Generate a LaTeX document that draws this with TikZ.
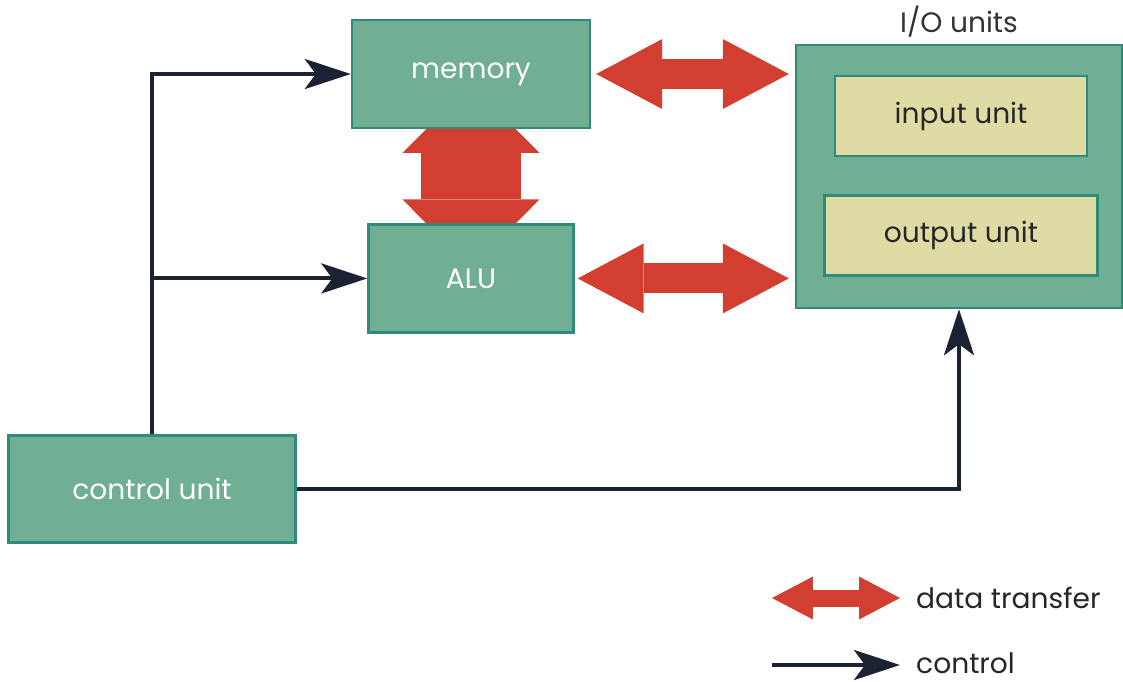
\documentclass[tikz,border=0pt]{standalone}
\usepackage{fontspec}
\setmainfont{Poppins}
\usetikzlibrary{arrows.meta,positioning,backgrounds}
\definecolor{boxgreen}{HTML}{70AF94}
\definecolor{boxedge}{HTML}{2F8A79}
\definecolor{unityellow}{HTML}{DFDBA5}
\definecolor{datared}{HTML}{D23F31}
\definecolor{ctrlblue}{HTML}{1B2233}

\begin{document}
\begin{tikzpicture}[
		x = 0.02cm, y = -0.02cm,
		unit/.style = {rectangle, draw = boxedge, line width = 1.4pt, fill = boxgreen, text = white, inner sep = 0pt, font = \fontsize{16}{19}\selectfont},
		subunit/.style = {rectangle, draw = boxedge, line width = 1.4pt, fill = unityellow, text = black!85, inner sep = 0pt, font = \fontsize{16}{19}\selectfont},
		ctrl/.style = {draw = ctrlblue, line width = 0.08cm, -{Stealth[length = 0.92cm, width = 0.6cm, inset = 0.22cm]}},
		data/.style = {draw = datared, line width = 0.6cm, {Triangle[width = 1.4cm, length = 1.32cm, line width = 0pt]}-{Triangle[width = 1.4cm, length = 1.32cm, line width = 0pt]}}
		]
\useasboundingbox (0,0) rectangle (1123,681);

\node[unit, minimum width = 4.76cm, minimum height = 2.16cm] (memory) at (471,74) {memory};
\node[unit, minimum width = 4.1cm, minimum height = 2.16cm][below = 1.88cm of {memory}] (alu) {ALU};
\node[unit, minimum width = 5.74cm, minimum height = 2.14cm] (control) at (152,489) {control unit};
\node[unit, minimum width = 6.52cm, minimum height = 5.26cm, label = {[text = black!80, font = \fontsize{16}{19}\selectfont]above:{I/O units}}] (io) at (959,176.5) {};
\node[subunit, minimum width = 5.04cm, minimum height = 1.6cm] (input) at (961,116) {input unit};
\node[subunit, minimum width = 5.46cm, minimum height = 1.6cm][below = 0.74cm of {input}] (output) {output unit};

% control lines
\draw[ctrl] (control.north) |- (memory.west);
\draw[ctrl] (control.north |- alu.west) -- (alu.west);
\draw[ctrl] (control.east) -| (io.south);

% data transfer
\begin{scope}[on background layer]
	\draw[data, shorten < = 0.1cm, shorten > = 0.12cm] (memory.east) -- (memory.east -| io.west);
	\draw[data, shorten < = 0.06cm, shorten > = 0.12cm] (alu.east) -- (alu.east -| io.west);
	\draw[data, line width = 2cm, {Triangle[width = 2.74cm, length = 1.38cm, line width = 0pt]}-{Triangle[width = 2.74cm, length = 1.38cm, line width = 0pt]}, shorten < = 0.2cm, shorten > = 0.2cm] (memory.center) -- (alu.center);
\end{scope}

% legend
\coordinate (dt1) at (772,598);
\coordinate (dt2) at (900,598);
\coordinate (ct1) at (772,665);
\coordinate (ct2) at (900,665);
\draw[data, line width = 0.34cm, {Triangle[width = 0.86cm, length = 0.82cm, line width = 0pt]}-{Triangle[width = 0.86cm, length = 0.82cm, line width = 0pt]}] (dt1) -- (dt2);
\draw[ctrl] (ct1) -- (ct2);
\node[anchor = west, text = black!85, font = \fontsize{16}{19}\selectfont] (dtlabel) at (910,598) {data transfer};
\node[anchor = west, text = black!85, font = \fontsize{16}{19}\selectfont] (ctlabel) at (910,663) {control};

\end{tikzpicture}
\end{document}
